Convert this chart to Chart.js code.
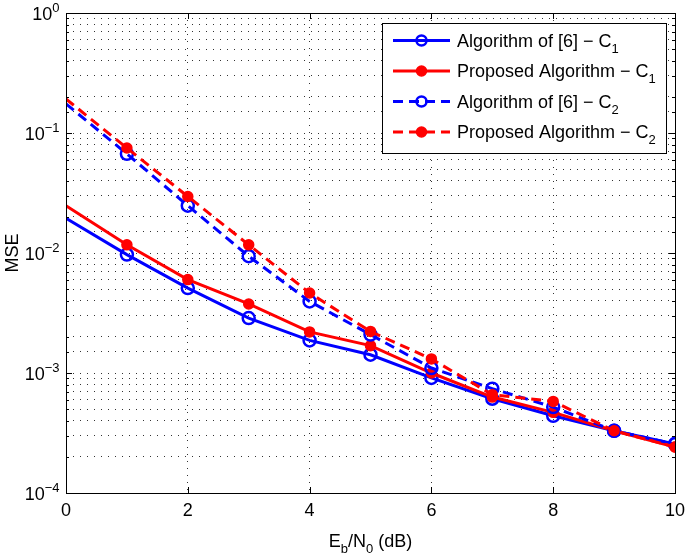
<!DOCTYPE html>
<html>
<head>
<meta charset="utf-8">
<script src="https://cdn.jsdelivr.net/npm/chart.js@4/dist/chart.umd.min.js"></script>
<style>
    html, body { margin: 0; padding: 0; background: #fff; }
    #wrap { width: 685px; height: 556px; }
</style>
</head>
<body>
<div id="wrap"><canvas id="mseChart" width="685" height="556"></canvas></div>
<script>
// Eb/N0 points (dB)
const snrDb = [0, 1, 2, 3, 4, 5, 6, 7, 8, 9, 10];

// MSE values
const algC1 = [0.0195, 0.0097, 0.0051, 0.00287, 0.00187, 0.00142, 0.00091, 0.00061, 0.00044, 0.00033, 0.000256];
const propC1 = [0.0248, 0.0117, 0.0060, 0.00376, 0.0022, 0.00169, 0.00100, 0.00063, 0.00047, 0.00033, 0.000242];
const algC2 = [0.175, 0.067, 0.0248, 0.0094, 0.00395, 0.00209, 0.00110, 0.00074, 0.00052, 0.00033, 0.000256];
const propC2 = [0.192, 0.075, 0.0296, 0.0117, 0.00464, 0.00222, 0.00131, 0.00066, 0.00058, 0.00033, 0.000242];

const xTicks = [0, 2, 4, 6, 8, 10];
const yDecades = [0, -1, -2, -3, -4];
const legendLabels = [
    ['Algorithm of [6] \u2212 C', '1'],
    ['Proposed Algorithm \u2212 C', '1'],
    ['Algorithm of [6] \u2212 C', '2'],
    ['Proposed Algorithm \u2212 C', '2']
];

const FONT = '"Liberation Sans", Arial, sans-serif';
const BLUE = '#0000ff';
const RED = '#ff0000';

function toPoints(values) {
    return snrDb.map((x, i) => ({ x: x, y: values[i] }));
}

function makeSeries(label, values, color, dashed, hollow, order) {
    return {
        label: label,
        data: toPoints(values),
        borderColor: color,
        borderWidth: 3,
        borderDash: dashed ? [10, 6] : [],
        pointStyle: 'circle',
        pointRadius: ctx => ctx.dataIndex === 0 ? 0 : (hollow ? 6 : 5),
        pointBorderWidth: hollow ? 2.5 : 1.5,
        pointBorderColor: color,
        pointBackgroundColor: hollow ? 'rgba(0,0,0,0)' : color,
        tension: 0,
        order: order
    };
}

const datasets = [
    makeSeries('Algorithm of [6] - C1', algC1, BLUE, false, true, 3),
    makeSeries('Proposed Algorithm - C1', propC1, RED, false, false, 2),
    makeSeries('Algorithm of [6] - C2', algC2, BLUE, true, true, 1),
    makeSeries('Proposed Algorithm - C2', propC2, RED, true, false, 0)
];

// text with a lowered or raised small part, e.g. C_1 or 10^-1
function drawScript(ctx, parts, x, y, align) {
    let total = 0;
    parts.forEach(p => {
        ctx.font = p.size + 'px ' + FONT;
        p.w = ctx.measureText(p.text).width;
        total += p.w;
    });
    let cx = align === 'right' ? x - total : (align === 'center' ? x - total / 2 : x);
    parts.forEach(p => {
        ctx.font = p.size + 'px ' + FONT;
        ctx.textAlign = 'left';
        ctx.textBaseline = 'alphabetic';
        ctx.fillText(p.text, cx, y + (p.dy || 0));
        cx += p.w;
    });
}

const axesDecor = {
    id: 'axesDecor',
    afterDraw(chart) {
        const ctx = chart.ctx;
        const area = chart.chartArea;
        const xs = chart.scales.x;
        const ys = chart.scales.y;
        ctx.save();

        // frame
        ctx.strokeStyle = '#000';
        ctx.lineWidth = 1;
        ctx.setLineDash([]);
        ctx.strokeRect(area.left + 0.5, area.top + 0.5, area.right - area.left, area.bottom - area.top);

        // inward ticks
        ctx.beginPath();
        ys.ticks.forEach(t => {
            const lg = Math.log10(t.value);
            const major = Math.abs(lg - Math.round(lg)) < 1e-9;
            const len = major ? 6 : 3;
            const py = Math.round(ys.getPixelForValue(t.value)) + 0.5;
            ctx.moveTo(area.left, py); ctx.lineTo(area.left + len, py);
            ctx.moveTo(area.right, py); ctx.lineTo(area.right - len, py);
        });
        xTicks.forEach(v => {
            const px = Math.round(xs.getPixelForValue(v)) + 0.5;
            ctx.moveTo(px, area.bottom); ctx.lineTo(px, area.bottom - 6);
            ctx.moveTo(px, area.top); ctx.lineTo(px, area.top + 6);
        });
        ctx.stroke();

        ctx.fillStyle = '#000';
        // x tick labels
        ctx.font = '18px ' + FONT;
        ctx.textAlign = 'center';
        ctx.textBaseline = 'middle';
        xTicks.forEach(v => {
            ctx.fillText(String(v), xs.getPixelForValue(v), area.bottom + 18);
        });

        // y tick labels 10^k
        yDecades.forEach(k => {
            const py = ys.getPixelForValue(Math.pow(10, k));
            const exp = k === 0 ? '0' : '\u2212' + (-k);
            drawScript(ctx, [
                { text: '10', size: 18, dy: 6.5 },
                { text: exp, size: 13, dy: -1 }
            ], area.left - 6.5, py, 'right');
        });

        // x title
        drawScript(ctx, [
            { text: 'E', size: 18 },
            { text: 'b', size: 13, dy: 6 },
            { text: '/N', size: 18 },
            { text: '0', size: 13, dy: 6 },
            { text: ' (dB)', size: 18 }
        ], (area.left + area.right) / 2, 547, 'center');

        // y title
        ctx.save();
        ctx.translate(13, (area.top + area.bottom) / 2);
        ctx.rotate(-Math.PI / 2);
        ctx.font = '18px ' + FONT;
        ctx.textAlign = 'center';
        ctx.textBaseline = 'middle';
        ctx.fillText('MSE', 0, 0);
        ctx.restore();

        // legend box
        const lx = area.right - 293;
        const ly = area.top + 9.5;
        ctx.fillStyle = '#fff';
        ctx.fillRect(lx, ly, 284, 130);
        ctx.strokeStyle = '#000';
        ctx.lineWidth = 1;
        ctx.strokeRect(Math.round(lx) + 0.5, Math.round(ly) + 0.5, 284, 130);

        datasets.forEach((ds, i) => {
            const rowY = ly + 18 + i * 30.5;
            ctx.strokeStyle = ds.borderColor;
            ctx.lineWidth = 3;
            ctx.setLineDash(ds.borderDash);
            ctx.beginPath();
            ctx.moveTo(lx + 11, rowY);
            ctx.lineTo(lx + 68, rowY);
            ctx.stroke();
            ctx.setLineDash([]);
            ctx.lineWidth = ds.pointBorderWidth;
            ctx.fillStyle = ds.pointBackgroundColor;
            ctx.strokeStyle = ds.pointBorderColor;
            Chart.helpers.drawPoint(ctx, {
                pointStyle: 'circle',
                radius: 5,
                borderWidth: ds.pointBorderWidth,
                rotation: 0
            }, lx + 39.5, rowY);
            ctx.fillStyle = '#000';
            drawScript(ctx, [
                { text: legendLabels[i][0], size: 18 },
                { text: legendLabels[i][1], size: 13, dy: 6 }
            ], lx + 75, rowY + 6, 'left');
        });

        ctx.restore();
    }
};

new Chart(document.getElementById('mseChart'), {
    type: 'line',
    data: { datasets: datasets },
    options: {
        responsive: false,
        devicePixelRatio: 1,
        animation: false,
        layout: { padding: { top: 13, right: 10, left: 0, bottom: 0 } },
        plugins: {
            legend: { display: false },
            tooltip: { enabled: false }
        },
        scales: {
            x: {
                type: 'linear',
                min: 0,
                max: 10,
                ticks: { stepSize: 2, display: false },
                grid: { color: '#333', lineWidth: 1, drawTicks: false },
                border: { display: false, dash: [1, 6] },
                afterFit: s => { s.height = 63; }
            },
            y: {
                type: 'logarithmic',
                min: 1e-4,
                max: 1,
                ticks: { display: false, autoSkip: false },
                grid: { color: '#333', lineWidth: 1, drawTicks: false },
                border: { display: false, dash: [1, 6] },
                afterFit: s => { s.width = 66; }
            }
        }
    },
    plugins: [axesDecor]
});
</script>
</body>
</html>
